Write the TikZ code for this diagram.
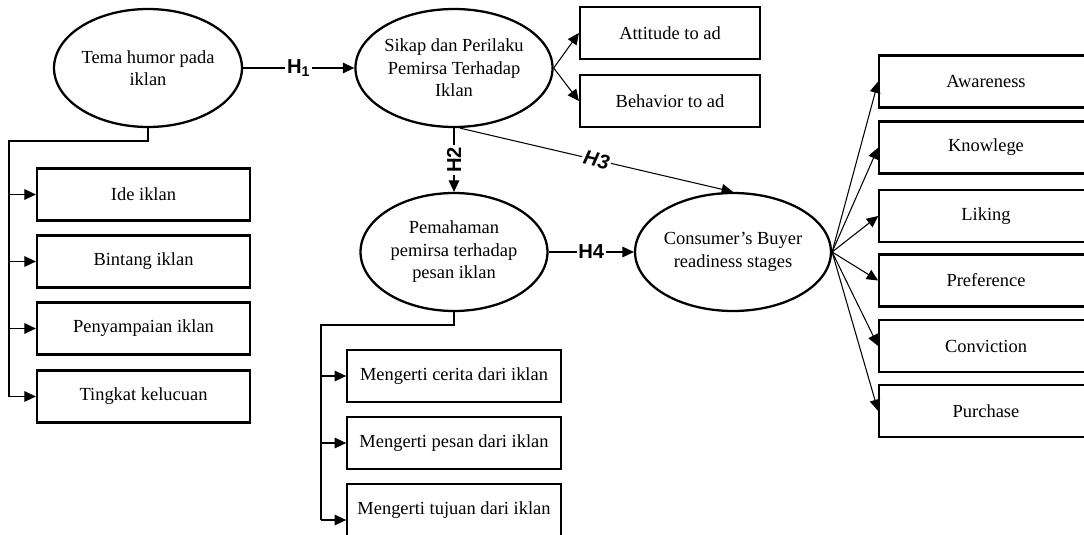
\documentclass[tikz,border=0pt]{standalone}
\usepackage{fontspec}
\setmainfont{Liberation Serif}
\setsansfont{Liberation Sans}
\usetikzlibrary{shapes.geometric,arrows.meta}
\tikzset{
  construct/.style={ellipse, draw, line width=1.3pt, inner sep=0pt,
    minimum width=3.74cm, minimum height=2.36cm, align=center,
    font=\fontsize{10.5}{12.8}\selectfont},
  indicator/.style={rectangle, draw, line width=1.3pt, inner sep=0pt,
    minimum width=4.27cm, minimum height=1.04cm,
    font=\fontsize{10.5}{12.5}\selectfont},
  link/.style={line width=0.6pt},
  arrowlink/.style={link, -{Triangle[length=6.5pt,width=6pt]}},
  hyplabel/.style={fill=white, inner sep=1pt, font=\fontsize{11.5}{12}\sffamily\bfseries}
}

\begin{document}
\begin{tikzpicture}[x=0.02cm, y=-0.02cm]
  \useasboundingbox (0,0) rectangle (1084,534);

  % constructs
  \node[construct] (tema) at (148,68) {Tema humor pada\\iklan};
  \node[construct] (sikap) at (454,68) {Sikap dan Perilaku\\Pemirsa Terhadap\\Iklan};
  \node[construct] (paham) at (454,252) {Pemahaman\\pemirsa terhadap\\pesan iklan};
  \node[construct] (buyer) at (733,252) {Consumer’s Buyer\\readiness stages};

  % indicators of tema humor
  \node[indicator, minimum width=4.26cm] (ide) at (143.5,194.5) {Ide iklan};
  \node[indicator, minimum width=4.26cm] (bintang) at (143.5,261.5) {Bintang iklan};
  \node[indicator, minimum width=4.26cm] (sampai) at (143.5,328.5) {Penyampaian iklan};
  \node[indicator, minimum width=4.26cm] (lucu) at (143.5,396.5) {Tingkat kelucuan};

  % indicators of sikap
  \node[indicator, minimum width=3.6cm] (attitude) at (670,33) {Attitude to ad};
  \node[indicator, minimum width=3.6cm] (behavior) at (670,101) {Behavior to ad};

  % indicators of pemahaman
  \node[indicator] (cerita) at (454,376) {Mengerti cerita dari iklan};
  \node[indicator] (pesan) at (454,443) {Mengerti pesan dari iklan};
  \node[indicator] (tujuan) at (454,510) {Mengerti tujuan dari iklan};

  % buyer readiness stages
  \node[indicator] (aware) at (986,81.5) {Awareness};
  \node[indicator] (know) at (986,147.5) {Knowlege};
  \node[indicator] (liking) at (986,216) {Liking};
  \node[indicator] (pref) at (986,280.5) {Preference};
  \node[indicator] (convict) at (986,346) {Conviction};
  \node[indicator] (purchase) at (986,411) {Purchase};

  % hypotheses
  \draw[arrowlink] (tema.east) -- node[hyplabel] {H\textsubscript{1}} (sikap.west);
  \draw[arrowlink] (sikap.south) -- node[hyplabel, rotate=90] {H2} (paham.north);
  \draw[arrowlink] ([xshift=0.12cm]sikap.south) -- node[hyplabel, sloped, font=\fontsize{11.5}{12}\sffamily\bfseries\itshape] {H3} (buyer.north);
  \draw[arrowlink] (paham.east) -- node[hyplabel] {H4} (buyer.west);

  % bracket to tema indicators
  \coordinate (spineA) at (9,141);
  \draw[link] (tema.south) |- (spineA) -- (spineA |- lucu.west);
  \foreach \b in {ide,bintang,sampai,lucu}
    \draw[arrowlink] (spineA |- \b.west) -- (\b.west);

  % bracket to pemahaman indicators
  \coordinate (spineB) at (321,325);
  \coordinate (tujuanin) at ([yshift=-0.2cm]tujuan.west);
  \draw[link] (paham.south) |- (spineB) -- (spineB |- tujuanin);
  \foreach \b in {cerita,pesan}
    \draw[arrowlink] (spineB |- \b.west) -- (\b.west);
  \draw[arrowlink] (spineB |- tujuanin) -- (tujuanin);

  % sikap and buyer fan-out
  \foreach \b in {attitude,behavior}
    \draw[arrowlink] (sikap.east) -- (\b.west);
  \foreach \b in {aware,know,liking,pref,convict,purchase}
    \draw[arrowlink] (buyer.east) -- (\b.west);
\end{tikzpicture}
\end{document}
